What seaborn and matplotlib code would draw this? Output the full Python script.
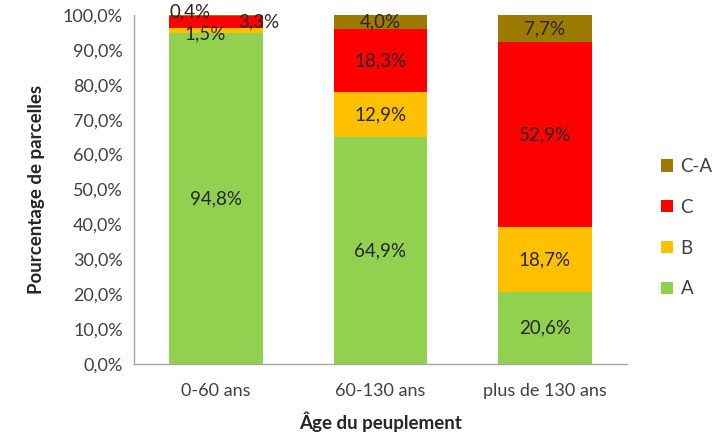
import numpy as np
import pandas as pd
import matplotlib
matplotlib.use("Agg")
import matplotlib.pyplot as plt
import seaborn as sns
from matplotlib.patches import Patch

# Data: share of plots per stand-age class (%)
categories = ["0-60 ans", "60-130 ans", "plus de 130 ans"]
classes = ["A", "B", "C", "C-A"]
val_A = [94.8, 64.9, 20.6]
val_B = [1.5, 12.9, 18.7]
val_C = [3.3, 18.3, 52.9]
val_CA = [0.4, 4.0, 7.7]
yticks = [0, 10, 20, 30, 40, 50, 60, 70, 80, 90, 100]

colors = {"A": "#92D050", "B": "#FFC000", "C": "#FF0000", "C-A": "#9C7B00"}

sns.set_theme(style="white")
plt.rcParams["font.family"] = ["Lato", "DejaVu Sans"]

FS = 13.5

values = np.array([val_A, val_B, val_C, val_CA])
tops = np.cumsum(values, axis=0)
bottoms = tops - values

fig = plt.figure(figsize=(7.23, 4.37), dpi=100)
ax = fig.add_axes([0.1853, 0.167, 0.6817, 0.7987])

# Stack: draw cumulative totals from the top layer down so each covers the next
for i in range(len(classes) - 1, -1, -1):
    df = pd.DataFrame({"cat": categories, "val": tops[i]})
    sns.barplot(data=df, x="cat", y="val", color=colors[classes[i]],
                saturation=1, width=0.57, ax=ax, edgecolor="none")

ax.set_ylim(0, 100)
ax.set_xlim(-0.5, 2.5)
ax.set_yticks(yticks)
ax.set_yticklabels([f"{t:.1f}%".replace(".", ",") for t in yticks],
                   fontsize=FS - 0.5, color="#404040")
ax.tick_params(axis="x", labelsize=FS - 0.5, labelcolor="#404040", pad=14, length=0)
ax.tick_params(axis="y", length=0, pad=8)
ax.set_xlabel("Âge du peuplement", fontsize=FS, fontweight="bold", labelpad=9)
ax.set_ylabel("Pourcentage de parcelles", fontsize=FS, fontweight="bold", labelpad=13)
for side in ["top", "right"]:
    ax.spines[side].set_visible(False)
for side in ["left", "bottom"]:
    ax.spines[side].set_color("#A6A6A6")
    ax.spines[side].set_linewidth(1)

def fmt(v):
    return f"{v:.1f}%".replace(".", ",")

# Value labels, offsets in points for the thin segments of the first bar
offsets = {(0, 1): (-8, -2.5), (0, 2): (31, 0), (0, 3): (-19, 3)}
for j in range(len(categories)):
    for i in range(len(classes)):
        y = (bottoms[i, j] + tops[i, j]) / 2
        dx, dy = offsets.get((j, i), (0, 0))
        ax.annotate(fmt(values[i, j]), (j, y), xytext=(dx, dy),
                    textcoords="offset points", ha="center", va="center",
                    fontsize=FS, color="#262626", annotation_clip=False)

handles = [Patch(facecolor=colors[c], edgecolor="none") for c in classes[::-1]]
leg = fig.legend(handles, classes[::-1], loc="center left",
                 bbox_to_anchor=(0.914, 0.479), frameon=False, fontsize=FS,
                 handlelength=0.65, handleheight=0.65, labelspacing=1.27,
                 handletextpad=0.4, borderpad=0, borderaxespad=0)
for t in leg.get_texts():
    t.set_color("#404040")

fig.savefig("out.png", dpi=100)
